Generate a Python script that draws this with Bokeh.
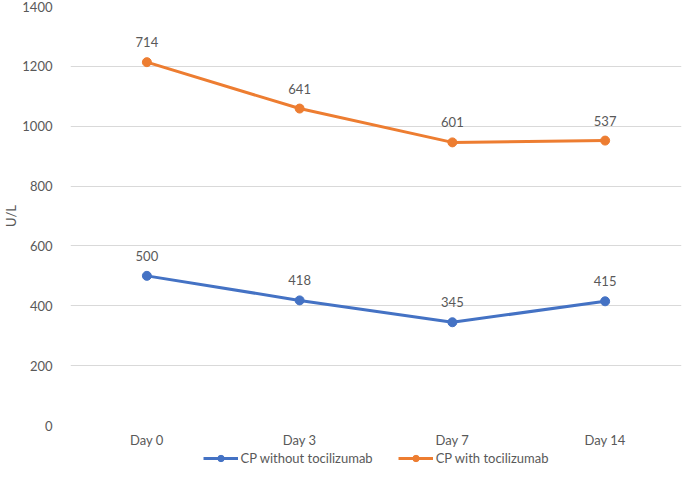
from bokeh.plotting import figure
from bokeh.layouts import column
from bokeh.models import ColumnDataSource, FixedTicker, Legend, LegendItem, FactorRange, Range1d
from bokeh.core.properties import value
from bokeh.embed import file_html
from bokeh.resources import INLINE

days = ["Day 0", "Day 3", "Day 7", "Day 14"]
without_toci = [500, 418, 345, 415]
with_toci = [714, 641, 601, 537]
y_ticks = [0, 200, 400, 600, 800, 1000, 1200, 1400]
series_names = ["CP without tocilizumab", "CP with tocilizumab"]

stacked = [a + b for a, b in zip(without_toci, with_toci)]

BLUE = "#4472C4"
ORANGE = "#ED7D31"
TXT = "#595959"
FONT = "Lato"

src_b = ColumnDataSource(dict(x=days, y=without_toci, lab=[str(v) for v in without_toci]))
src_o = ColumnDataSource(dict(x=days, y=stacked, lab=[str(v) for v in with_toci]))

p = figure(width=683, height=450, x_range=FactorRange(*days), y_range=Range1d(0, 1400),
           output_backend="svg", toolbar_location=None,
           min_border_left=65, min_border_right=2, min_border_top=6, min_border_bottom=10)
p.outline_line_color = None
p.background_fill_color = "white"
p.border_fill_color = "white"

p.line("x", "y", source=src_b, line_color=BLUE, line_width=3)
p.scatter("x", "y", source=src_b, size=9, fill_color=BLUE, line_color=BLUE)
p.line("x", "y", source=src_o, line_color=ORANGE, line_width=3)
p.scatter("x", "y", source=src_o, size=9, fill_color=ORANGE, line_color=ORANGE)

for src in (src_b, src_o):
    p.text("x", "y", text="lab", source=src, text_align="center", text_baseline="bottom",
           y_offset=-15, text_font=value(FONT), text_font_size="13px", text_color=TXT)

p.yaxis.ticker = FixedTicker(ticks=y_ticks)
p.yaxis.axis_line_color = None
p.yaxis.major_tick_line_color = None
p.yaxis.minor_tick_line_color = None
p.yaxis.major_label_text_font = FONT
p.yaxis.major_label_text_font_size = "13px"
p.yaxis.major_label_text_color = TXT
p.yaxis.major_label_standoff = 12
p.yaxis.axis_label = "U/L"
p.yaxis.axis_label_text_font = FONT
p.yaxis.axis_label_text_font_size = "13px"
p.yaxis.axis_label_text_font_style = "normal"
p.yaxis.axis_label_text_color = TXT
p.yaxis.axis_label_standoff = 0

p.xaxis.axis_line_color = None
p.xaxis.major_tick_line_color = None
p.xaxis.minor_tick_line_color = None
p.xaxis.major_label_text_font = FONT
p.xaxis.major_label_text_font_size = "13px"
p.xaxis.major_label_text_color = TXT
p.xaxis.major_label_standoff = 0

p.xgrid.grid_line_color = None
p.ygrid.grid_line_color = "#D9D9D9"
p.ygrid.grid_line_width = 1

# legend row below the chart
q = figure(width=683, height=16, x_range=Range1d(0, 1), y_range=Range1d(0, 1),
           output_backend="svg", toolbar_location=None,
           x_axis_location=None, y_axis_location=None,
           min_border_left=0, min_border_right=0, min_border_top=0, min_border_bottom=0)
q.outline_line_color = None
q.grid.visible = False
items = []
for name, col in zip(series_names, [BLUE, ORANGE]):
    l = q.line(x=[-5, -4], y=[-5, -4], line_color=col, line_width=3)
    s = q.scatter(x=[-5], y=[-5], size=9, fill_color=col, line_color=col)
    items.append(LegendItem(label=name, renderers=[l, s]))
legend = Legend(items=items, orientation="horizontal", location="center",
                label_text_font=FONT, label_text_font_size="13px", label_text_color=TXT,
                glyph_width=35, glyph_height=16, spacing=25, label_standoff=3,
                border_line_color=None, padding=0, margin=0, background_fill_alpha=0)
q.add_layout(legend)

open("out.html", "w").write(file_html(column(p, q, spacing=0), INLINE))
